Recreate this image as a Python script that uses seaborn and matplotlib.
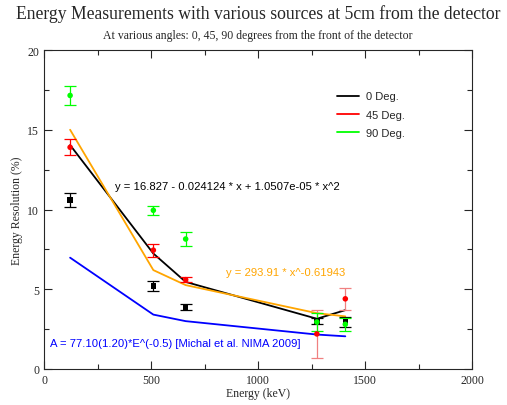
import matplotlib
matplotlib.use("Agg")
import matplotlib.pyplot as plt
import seaborn as sns
import pandas as pd
from matplotlib.lines import Line2D
from matplotlib.ticker import MultipleLocator

# energies of the sources (keV)
energy = [122, 511, 662, 1275, 1408]

# measured resolution (%) and errors per angle
res_0 = [10.6, 5.2, 3.9, 3.0, 2.95]
err_0 = [0.45, 0.3, 0.2, 0.2, 0.3]
res_45 = [13.9, 7.45, 5.6, 2.2, 4.4]
err_45 = [0.5, 0.4, 0.15, 1.5, 0.7]
res_90 = [17.15, 9.95, 8.15, 2.95, 2.8]
err_90 = [0.6, 0.3, 0.45, 0.55, 0.4]

# curves
fit_poly = [14.04, 7.24, 5.46, 3.15, 3.69]
fit_pow = [15.0, 6.2, 5.26, 3.5, 3.3]
michal = [6.98, 3.41, 3.0, 2.16, 2.05]

legend_labels = ["0 Deg.", "45 Deg.", "90 Deg."]

sns.set_style("ticks")
plt.rcParams["font.family"] = ["Liberation Serif", "DejaVu Serif"]

fig = plt.figure(figsize=(5.07, 4.06), dpi=100)
ax = fig.add_axes([44 / 507, 36 / 406, 428 / 507, 319 / 406])

curves = pd.DataFrame({
    "energy": energy * 3,
    "value": fit_poly + fit_pow + michal,
    "curve": ["poly"] * 5 + ["pow"] * 5 + ["michal"] * 5,
})
sns.lineplot(
    data=curves, x="energy", y="value", hue="curve",
    palette={"poly": "black", "pow": "#FFA500", "michal": "#0000FF"},
    linewidth=1.3, legend=False, ax=ax, sort=False,
)

# error bars
ax.errorbar(energy, res_0, yerr=err_0, fmt="none", ecolor="black",
            elinewidth=0.9, capsize=4, capthick=0.9, zorder=3)
ax.errorbar(energy[:3], res_45[:3], yerr=err_45[:3], fmt="none", ecolor="red",
            elinewidth=0.9, capsize=4, capthick=0.9, zorder=3)
ax.errorbar(energy[3:], res_45[3:], yerr=err_45[3:], fmt="none", ecolor="#F08080",
            elinewidth=0.9, capsize=4, capthick=0.9, zorder=3)
ax.errorbar(energy, res_90, yerr=err_90, fmt="none", ecolor="#00FF00",
            elinewidth=0.9, capsize=4, capthick=0.9, zorder=3)

points = pd.DataFrame({
    "energy": energy * 3,
    "value": res_0 + res_45 + res_90,
    "angle": ["0"] * 5 + ["45"] * 5 + ["90"] * 5,
})
sns.scatterplot(
    data=points, x="energy", y="value", hue="angle", style="angle",
    palette={"0": "black", "45": "red", "90": "#00FF00"},
    markers={"0": "s", "45": "o", "90": "o"},
    s=16, linewidth=0, legend=False, ax=ax, zorder=4,
)

ax.set_xlim(0, 2000)
ax.set_ylim(0, 20)
ax.xaxis.set_major_locator(MultipleLocator(500))
ax.xaxis.set_minor_locator(MultipleLocator(250))
ax.yaxis.set_major_locator(MultipleLocator(5))
ax.yaxis.set_minor_locator(MultipleLocator(2.5))
ax.tick_params(which="both", direction="in", top=True, right=True,
               labelsize=8.5, width=0.8)
ax.tick_params(which="major", length=6)
ax.tick_params(which="minor", length=3.5)
for sp in ax.spines.values():
    sp.set_linewidth(0.8)

ax.set_xlabel("Energy (keV)", fontsize=8.5)
ax.set_ylabel("Energy Resolution (%)", fontsize=8.5)
ax.xaxis.set_label_coords(0.5, -0.055)
ax.yaxis.set_label_coords(-0.048, 0.5)

sans = ["Liberation Sans", "DejaVu Sans"]
ax.text(332, 11.47, "y = 16.827 - 0.024124 * x + 1.0507e-05 * x^2",
        color="black", fontsize=8.1, family=sans, va="center")
ax.text(850, 6.08, "y = 293.91 * x^-0.61943",
        color="#FFA500", fontsize=8.1, family=sans, va="center")
ax.text(28, 1.63, "A = 77.10(1.20)*E^(-0.5) [Michal et al. NIMA 2009]",
        color="#0000FF", fontsize=8.1, family=sans, va="center")

handles = [Line2D([], [], color=c, linewidth=1.3) for c in ["black", "red", "#00FF00"]]
ax.legend(handles, legend_labels, loc="upper left", bbox_to_anchor=(0.685, 0.87),
          frameon=False, prop={"family": sans, "size": 8},
          handlelength=2.0, handletextpad=0.6, labelspacing=0.75,
          borderpad=0, borderaxespad=0)

fig.text(0.509, 0.966, "Energy Measurements with various sources at 5cm from the detector",
         ha="center", va="center", fontsize=12.7)
fig.text(0.509, 0.911, "At various angles: 0, 45, 90 degrees from the front of the detector",
         ha="center", va="center", fontsize=8.5)

fig.savefig("out.png", dpi=100)
